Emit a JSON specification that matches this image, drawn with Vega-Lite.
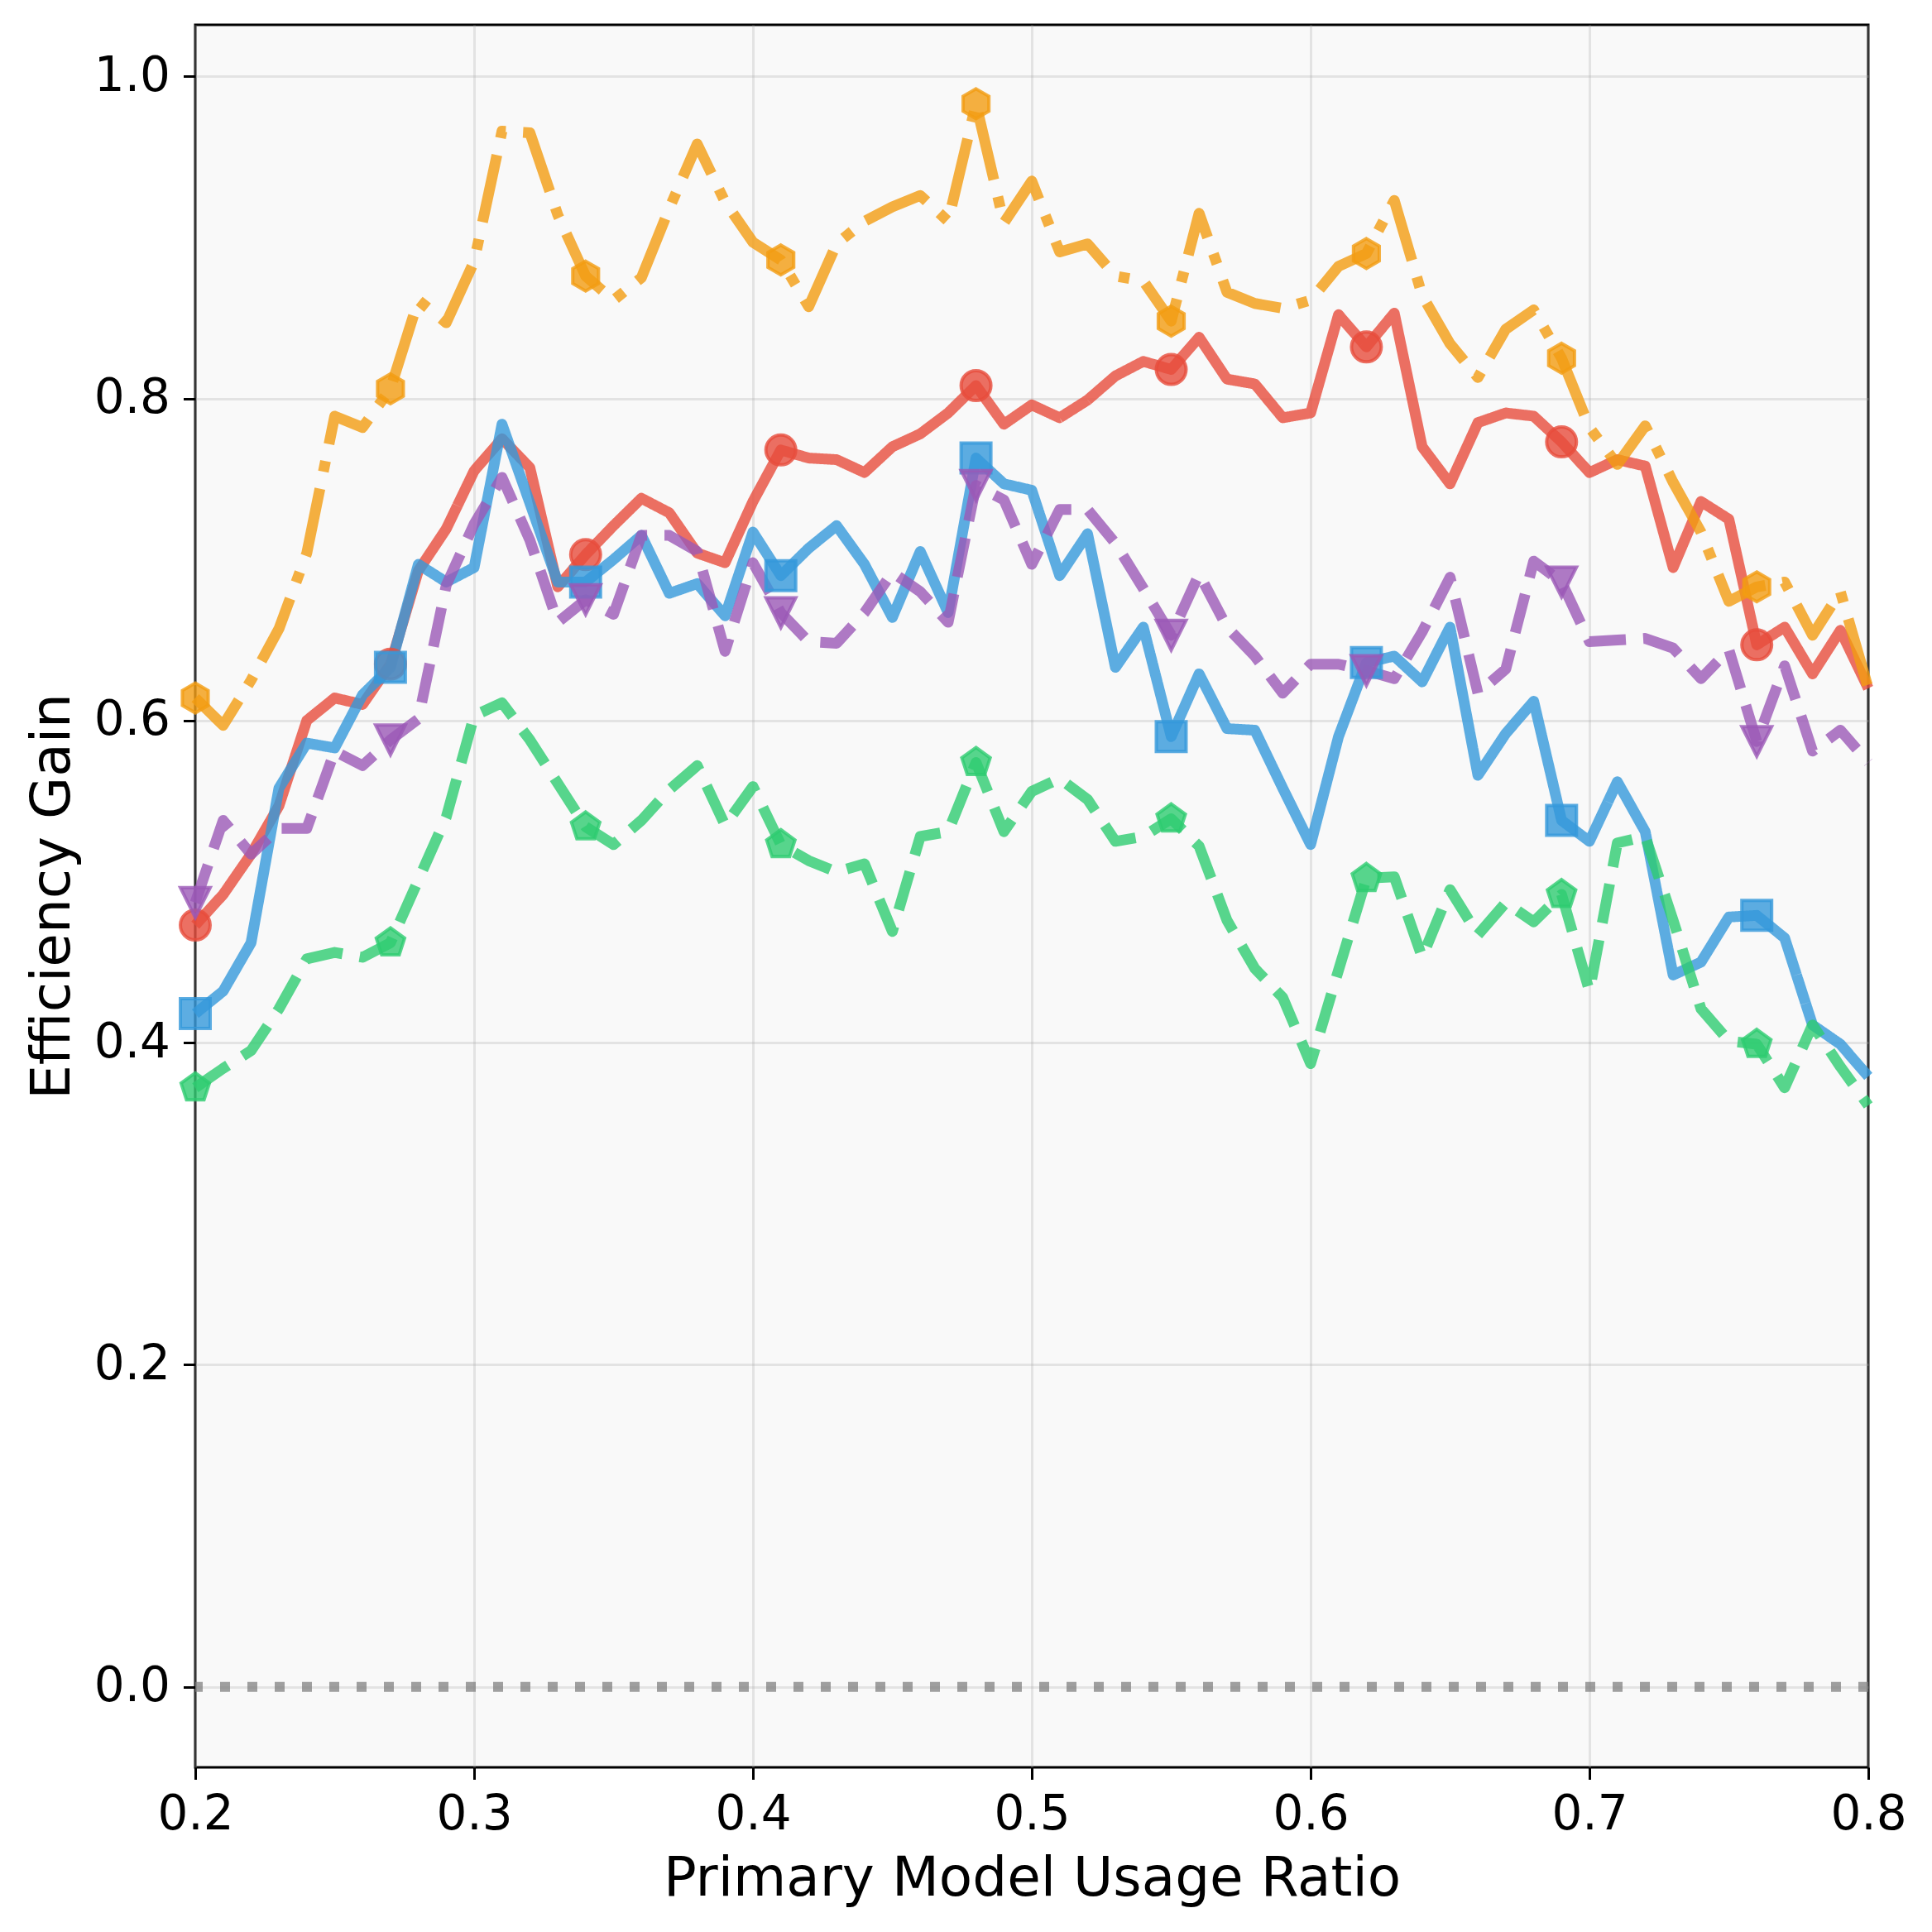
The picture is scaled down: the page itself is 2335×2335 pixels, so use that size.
{
  "$schema": "https://vega.github.io/schema/vega-lite/v6.json",
  "width": 2022,
  "height": 2106,
  "autosize": {"type": "none"},
  "padding": {"left": 236, "top": 30, "right": 77, "bottom": 199},
  "background": "white",
  "config": {
    "view": {"stroke": "black", "strokeWidth": 3, "fill": "#f9f9f9"},
    "axis": {
      "labelFont": "DejaVu Sans", "labelFontSize": 58, "labelColor": "black",
      "titleFont": "DejaVu Sans", "titleFontSize": 66, "titleFontWeight": "normal", "titleColor": "black",
      "tickColor": "black", "tickWidth": 3, "tickSize": 14.5, "domain": false,
      "gridColor": "#b0b0b0", "gridOpacity": 0.3, "gridWidth": 3,
      "labelPadding": 14, "titlePadding": 16, "labelFlush": false, "labelOverlap": false
    },
    "axisY": {"labelPadding": 16}
  },
  "datasets": {
    "series": [
      {"x":0.2,"y":0.473,"s":"A"},{"x":0.21,"y":0.492,"s":"A"},{"x":0.22,"y":0.517,"s":"A"},{"x":0.23,"y":0.547,"s":"A"},{"x":0.24,"y":0.6,"s":"A"},{"x":0.25,"y":0.614,"s":"A"},{"x":0.26,"y":0.61,"s":"A"},{"x":0.27,"y":0.635,"s":"A"},{"x":0.28,"y":0.693,"s":"A"},{"x":0.29,"y":0.719,"s":"A"},
      {"x":0.3,"y":0.755,"s":"A"},{"x":0.31,"y":0.775,"s":"A"},{"x":0.32,"y":0.757,"s":"A"},{"x":0.33,"y":0.683,"s":"A"},{"x":0.34,"y":0.703,"s":"A"},{"x":0.35,"y":0.721,"s":"A"},{"x":0.36,"y":0.738,"s":"A"},{"x":0.37,"y":0.729,"s":"A"},{"x":0.38,"y":0.704,"s":"A"},{"x":0.39,"y":0.698,"s":"A"},
      {"x":0.4,"y":0.736,"s":"A"},{"x":0.41,"y":0.768,"s":"A"},{"x":0.42,"y":0.763,"s":"A"},{"x":0.43,"y":0.762,"s":"A"},{"x":0.44,"y":0.754,"s":"A"},{"x":0.45,"y":0.77,"s":"A"},{"x":0.46,"y":0.778,"s":"A"},{"x":0.47,"y":0.791,"s":"A"},{"x":0.48,"y":0.808,"s":"A"},{"x":0.49,"y":0.784,"s":"A"},
      {"x":0.5,"y":0.796,"s":"A"},{"x":0.51,"y":0.788,"s":"A"},{"x":0.52,"y":0.799,"s":"A"},{"x":0.53,"y":0.814,"s":"A"},{"x":0.54,"y":0.823,"s":"A"},{"x":0.55,"y":0.818,"s":"A"},{"x":0.56,"y":0.838,"s":"A"},{"x":0.57,"y":0.812,"s":"A"},{"x":0.58,"y":0.809,"s":"A"},{"x":0.59,"y":0.788,"s":"A"},
      {"x":0.6,"y":0.791,"s":"A"},{"x":0.61,"y":0.852,"s":"A"},{"x":0.62,"y":0.832,"s":"A"},{"x":0.63,"y":0.853,"s":"A"},{"x":0.64,"y":0.77,"s":"A"},{"x":0.65,"y":0.747,"s":"A"},{"x":0.66,"y":0.785,"s":"A"},{"x":0.67,"y":0.791,"s":"A"},{"x":0.68,"y":0.789,"s":"A"},{"x":0.69,"y":0.773,"s":"A"},
      {"x":0.7,"y":0.754,"s":"A"},{"x":0.71,"y":0.762,"s":"A"},{"x":0.72,"y":0.758,"s":"A"},{"x":0.73,"y":0.695,"s":"A"},{"x":0.74,"y":0.736,"s":"A"},{"x":0.75,"y":0.725,"s":"A"},{"x":0.76,"y":0.647,"s":"A"},{"x":0.77,"y":0.658,"s":"A"},{"x":0.78,"y":0.629,"s":"A"},{"x":0.79,"y":0.656,"s":"A"},{"x":0.8,"y":0.62,"s":"A"},

      {"x":0.2,"y":0.418,"s":"B"},{"x":0.21,"y":0.432,"s":"B"},{"x":0.22,"y":0.462,"s":"B"},{"x":0.23,"y":0.558,"s":"B"},{"x":0.24,"y":0.586,"s":"B"},{"x":0.25,"y":0.583,"s":"B"},{"x":0.26,"y":0.616,"s":"B"},{"x":0.27,"y":0.633,"s":"B"},{"x":0.28,"y":0.697,"s":"B"},{"x":0.29,"y":0.686,"s":"B"},
      {"x":0.3,"y":0.695,"s":"B"},{"x":0.31,"y":0.784,"s":"B"},{"x":0.32,"y":0.735,"s":"B"},{"x":0.33,"y":0.686,"s":"B"},{"x":0.34,"y":0.686,"s":"B"},{"x":0.35,"y":0.7,"s":"B"},{"x":0.36,"y":0.715,"s":"B"},{"x":0.37,"y":0.679,"s":"B"},{"x":0.38,"y":0.685,"s":"B"},{"x":0.39,"y":0.665,"s":"B"},
      {"x":0.4,"y":0.717,"s":"B"},{"x":0.41,"y":0.69,"s":"B"},{"x":0.42,"y":0.707,"s":"B"},{"x":0.43,"y":0.721,"s":"B"},{"x":0.44,"y":0.697,"s":"B"},{"x":0.45,"y":0.664,"s":"B"},{"x":0.46,"y":0.705,"s":"B"},{"x":0.47,"y":0.667,"s":"B"},{"x":0.48,"y":0.763,"s":"B"},{"x":0.49,"y":0.747,"s":"B"},
      {"x":0.5,"y":0.743,"s":"B"},{"x":0.51,"y":0.69,"s":"B"},{"x":0.52,"y":0.716,"s":"B"},{"x":0.53,"y":0.633,"s":"B"},{"x":0.54,"y":0.658,"s":"B"},{"x":0.55,"y":0.59,"s":"B"},{"x":0.56,"y":0.629,"s":"B"},{"x":0.57,"y":0.595,"s":"B"},{"x":0.58,"y":0.594,"s":"B"},{"x":0.59,"y":0.558,"s":"B"},
      {"x":0.6,"y":0.523,"s":"B"},{"x":0.61,"y":0.59,"s":"B"},{"x":0.62,"y":0.636,"s":"B"},{"x":0.63,"y":0.64,"s":"B"},{"x":0.64,"y":0.624,"s":"B"},{"x":0.65,"y":0.658,"s":"B"},{"x":0.66,"y":0.566,"s":"B"},{"x":0.67,"y":0.592,"s":"B"},{"x":0.68,"y":0.612,"s":"B"},{"x":0.69,"y":0.538,"s":"B"},
      {"x":0.7,"y":0.525,"s":"B"},{"x":0.71,"y":0.562,"s":"B"},{"x":0.72,"y":0.531,"s":"B"},{"x":0.73,"y":0.442,"s":"B"},{"x":0.74,"y":0.45,"s":"B"},{"x":0.75,"y":0.478,"s":"B"},{"x":0.76,"y":0.479,"s":"B"},{"x":0.77,"y":0.465,"s":"B"},{"x":0.78,"y":0.411,"s":"B"},{"x":0.79,"y":0.399,"s":"B"},{"x":0.8,"y":0.379,"s":"B"},

      {"x":0.2,"y":0.487,"s":"C"},{"x":0.21,"y":0.538,"s":"C"},{"x":0.22,"y":0.517,"s":"C"},{"x":0.23,"y":0.533,"s":"C"},{"x":0.24,"y":0.533,"s":"C"},{"x":0.25,"y":0.581,"s":"C"},{"x":0.26,"y":0.572,"s":"C"},{"x":0.27,"y":0.588,"s":"C"},{"x":0.28,"y":0.601,"s":"C"},{"x":0.29,"y":0.684,"s":"C"},
      {"x":0.3,"y":0.722,"s":"C"},{"x":0.31,"y":0.751,"s":"C"},{"x":0.32,"y":0.712,"s":"C"},{"x":0.33,"y":0.661,"s":"C"},{"x":0.34,"y":0.675,"s":"C"},{"x":0.35,"y":0.666,"s":"C"},{"x":0.36,"y":0.715,"s":"C"},{"x":0.37,"y":0.715,"s":"C"},{"x":0.38,"y":0.705,"s":"C"},{"x":0.39,"y":0.643,"s":"C"},
      {"x":0.4,"y":0.698,"s":"C"},{"x":0.41,"y":0.667,"s":"C"},{"x":0.42,"y":0.649,"s":"C"},{"x":0.43,"y":0.648,"s":"C"},{"x":0.44,"y":0.667,"s":"C"},{"x":0.45,"y":0.692,"s":"C"},{"x":0.46,"y":0.68,"s":"C"},{"x":0.47,"y":0.661,"s":"C"},{"x":0.48,"y":0.746,"s":"C"},{"x":0.49,"y":0.737,"s":"C"},
      {"x":0.5,"y":0.697,"s":"C"},{"x":0.51,"y":0.731,"s":"C"},{"x":0.52,"y":0.731,"s":"C"},{"x":0.53,"y":0.71,"s":"C"},{"x":0.54,"y":0.682,"s":"C"},{"x":0.55,"y":0.653,"s":"C"},{"x":0.56,"y":0.691,"s":"C"},{"x":0.57,"y":0.658,"s":"C"},{"x":0.58,"y":0.64,"s":"C"},{"x":0.59,"y":0.617,"s":"C"},
      {"x":0.6,"y":0.635,"s":"C"},{"x":0.61,"y":0.635,"s":"C"},{"x":0.62,"y":0.631,"s":"C"},{"x":0.63,"y":0.626,"s":"C"},{"x":0.64,"y":0.655,"s":"C"},{"x":0.65,"y":0.689,"s":"C"},{"x":0.66,"y":0.617,"s":"C"},{"x":0.67,"y":0.632,"s":"C"},{"x":0.68,"y":0.699,"s":"C"},{"x":0.69,"y":0.686,"s":"C"},
      {"x":0.7,"y":0.649,"s":"C"},{"x":0.71,"y":0.65,"s":"C"},{"x":0.72,"y":0.651,"s":"C"},{"x":0.73,"y":0.645,"s":"C"},{"x":0.74,"y":0.626,"s":"C"},{"x":0.75,"y":0.644,"s":"C"},{"x":0.76,"y":0.587,"s":"C"},{"x":0.77,"y":0.634,"s":"C"},{"x":0.78,"y":0.581,"s":"C"},{"x":0.79,"y":0.594,"s":"C"},{"x":0.8,"y":0.574,"s":"C"},

      {"x":0.2,"y":0.372,"s":"D"},{"x":0.21,"y":0.384,"s":"D"},{"x":0.22,"y":0.395,"s":"D"},{"x":0.23,"y":0.421,"s":"D"},{"x":0.24,"y":0.452,"s":"D"},{"x":0.25,"y":0.456,"s":"D"},{"x":0.26,"y":0.453,"s":"D"},{"x":0.27,"y":0.462,"s":"D"},{"x":0.28,"y":0.501,"s":"D"},{"x":0.29,"y":0.54,"s":"D"},
      {"x":0.3,"y":0.603,"s":"D"},{"x":0.31,"y":0.611,"s":"D"},{"x":0.32,"y":0.588,"s":"D"},{"x":0.33,"y":0.561,"s":"D"},{"x":0.34,"y":0.534,"s":"D"},{"x":0.35,"y":0.523,"s":"D"},{"x":0.36,"y":0.538,"s":"D"},{"x":0.37,"y":0.557,"s":"D"},{"x":0.38,"y":0.572,"s":"D"},{"x":0.39,"y":0.535,"s":"D"},
      {"x":0.4,"y":0.559,"s":"D"},{"x":0.41,"y":0.523,"s":"D"},{"x":0.42,"y":0.513,"s":"D"},{"x":0.43,"y":0.506,"s":"D"},{"x":0.44,"y":0.511,"s":"D"},{"x":0.45,"y":0.469,"s":"D"},{"x":0.46,"y":0.528,"s":"D"},{"x":0.47,"y":0.531,"s":"D"},{"x":0.48,"y":0.574,"s":"D"},{"x":0.49,"y":0.531,"s":"D"},
      {"x":0.5,"y":0.556,"s":"D"},{"x":0.51,"y":0.564,"s":"D"},{"x":0.52,"y":0.551,"s":"D"},{"x":0.53,"y":0.525,"s":"D"},{"x":0.54,"y":0.528,"s":"D"},{"x":0.55,"y":0.539,"s":"D"},{"x":0.56,"y":0.522,"s":"D"},{"x":0.57,"y":0.476,"s":"D"},{"x":0.58,"y":0.446,"s":"D"},{"x":0.59,"y":0.428,"s":"D"},
      {"x":0.6,"y":0.387,"s":"D"},{"x":0.61,"y":0.445,"s":"D"},{"x":0.62,"y":0.502,"s":"D"},{"x":0.63,"y":0.503,"s":"D"},{"x":0.64,"y":0.453,"s":"D"},{"x":0.65,"y":0.495,"s":"D"},{"x":0.66,"y":0.467,"s":"D"},{"x":0.67,"y":0.487,"s":"D"},{"x":0.68,"y":0.475,"s":"D"},{"x":0.69,"y":0.492,"s":"D"},
      {"x":0.7,"y":0.432,"s":"D"},{"x":0.71,"y":0.524,"s":"D"},{"x":0.72,"y":0.528,"s":"D"},{"x":0.73,"y":0.476,"s":"D"},{"x":0.74,"y":0.421,"s":"D"},{"x":0.75,"y":0.401,"s":"D"},{"x":0.76,"y":0.399,"s":"D"},{"x":0.77,"y":0.372,"s":"D"},{"x":0.78,"y":0.411,"s":"D"},{"x":0.79,"y":0.385,"s":"D"},{"x":0.8,"y":0.361,"s":"D"},

      {"x":0.2,"y":0.614,"s":"E"},{"x":0.21,"y":0.597,"s":"E"},{"x":0.22,"y":0.625,"s":"E"},{"x":0.23,"y":0.657,"s":"E"},{"x":0.24,"y":0.704,"s":"E"},{"x":0.25,"y":0.789,"s":"E"},{"x":0.26,"y":0.782,"s":"E"},{"x":0.27,"y":0.806,"s":"E"},{"x":0.28,"y":0.861,"s":"E"},{"x":0.29,"y":0.847,"s":"E"},
      {"x":0.3,"y":0.885,"s":"E"},{"x":0.31,"y":0.966,"s":"E"},{"x":0.32,"y":0.965,"s":"E"},{"x":0.33,"y":0.914,"s":"E"},{"x":0.34,"y":0.876,"s":"E"},{"x":0.35,"y":0.861,"s":"E"},{"x":0.36,"y":0.875,"s":"E"},{"x":0.37,"y":0.918,"s":"E"},{"x":0.38,"y":0.958,"s":"E"},{"x":0.39,"y":0.922,"s":"E"},
      {"x":0.4,"y":0.897,"s":"E"},{"x":0.41,"y":0.886,"s":"E"},{"x":0.42,"y":0.857,"s":"E"},{"x":0.43,"y":0.896,"s":"E"},{"x":0.44,"y":0.91,"s":"E"},{"x":0.45,"y":0.919,"s":"E"},{"x":0.46,"y":0.926,"s":"E"},{"x":0.47,"y":0.91,"s":"E"},{"x":0.48,"y":0.983,"s":"E"},{"x":0.49,"y":0.909,"s":"E"},
      {"x":0.5,"y":0.935,"s":"E"},{"x":0.51,"y":0.891,"s":"E"},{"x":0.52,"y":0.896,"s":"E"},{"x":0.53,"y":0.876,"s":"E"},{"x":0.54,"y":0.873,"s":"E"},{"x":0.55,"y":0.848,"s":"E"},{"x":0.56,"y":0.915,"s":"E"},{"x":0.57,"y":0.866,"s":"E"},{"x":0.58,"y":0.859,"s":"E"},{"x":0.59,"y":0.856,"s":"E"},
      {"x":0.6,"y":0.861,"s":"E"},{"x":0.61,"y":0.882,"s":"E"},{"x":0.62,"y":0.89,"s":"E"},{"x":0.63,"y":0.923,"s":"E"},{"x":0.64,"y":0.864,"s":"E"},{"x":0.65,"y":0.834,"s":"E"},{"x":0.66,"y":0.813,"s":"E"},{"x":0.67,"y":0.843,"s":"E"},{"x":0.68,"y":0.855,"s":"E"},{"x":0.69,"y":0.825,"s":"E"},
      {"x":0.7,"y":0.782,"s":"E"},{"x":0.71,"y":0.759,"s":"E"},{"x":0.72,"y":0.783,"s":"E"},{"x":0.73,"y":0.748,"s":"E"},{"x":0.74,"y":0.717,"s":"E"},{"x":0.75,"y":0.674,"s":"E"},{"x":0.76,"y":0.683,"s":"E"},{"x":0.77,"y":0.686,"s":"E"},{"x":0.78,"y":0.653,"s":"E"},{"x":0.79,"y":0.68,"s":"E"},{"x":0.8,"y":0.62,"s":"E"}
    ],
    "zero": [{"y": 0}]
  },
  "layer": [
    {
      "data": {"name": "zero"},
      "mark": {"type": "rule", "color": "#808080", "opacity": 0.75, "strokeWidth": 12, "strokeDash": [12, 21], "strokeCap": "butt"},
      "encoding": {
        "y": {"field": "y", "type": "quantitative",
              "scale": {"domain": [-0.05, 1.032], "nice": false, "zero": false},
              "axis": {"values": [0, 0.2, 0.4, 0.6, 0.8, 1.0], "format": ".1f", "title": "Efficiency Gain"}}
      }
    },
    {
      "data": {"name": "series"},
      "mark": {"type": "line", "strokeWidth": 13, "strokeCap": "butt", "strokeJoin": "round", "opacity": 0.8},
      "encoding": {
        "x": {"field": "x", "type": "quantitative",
              "scale": {"domain": [0.2, 0.8], "nice": false, "zero": false},
              "axis": {"values": [0.2, 0.3, 0.4, 0.5, 0.6, 0.7, 0.8], "format": ".1f", "title": "Primary Model Usage Ratio"}},
        "y": {"field": "y", "type": "quantitative",
              "scale": {"domain": [-0.05, 1.032], "nice": false, "zero": false},
              "axis": {"values": [0, 0.2, 0.4, 0.6, 0.8, 1.0], "format": ".1f", "title": "Efficiency Gain"}},
        "color": {"field": "s", "type": "nominal",
                  "scale": {"domain": ["A", "B", "C", "D", "E"], "range": ["#E74C3C", "#3498DB", "#9B59B6", "#2ECC71", "#F39C12"]},
                  "legend": null},
        "strokeDash": {"field": "s", "type": "nominal",
                       "scale": {"domain": ["A", "B", "C", "D", "E"], "range": [[1, 0], [1, 0], [48, 21], [48, 21], [83, 21, 13, 21]]},
                       "legend": null}
      }
    },
    {
      "data": {"name": "series"},
      "transform": [{"filter": {"field": "x", "oneOf": [0.2, 0.27, 0.34, 0.41, 0.48, 0.55, 0.62, 0.69, 0.76]}}],
      "mark": {"type": "point", "filled": true, "size": 1296, "opacity": 1, "fillOpacity": 0.8, "strokeOpacity": 0.8, "strokeWidth": 4},
      "encoding": {
        "x": {"field": "x", "type": "quantitative"},
        "y": {"field": "y", "type": "quantitative"},
        "fill": {"field": "s", "type": "nominal",
                 "scale": {"domain": ["A", "B", "C", "D", "E"], "range": ["#E74C3C", "#3498DB", "#9B59B6", "#2ECC71", "#F39C12"]},
                 "legend": null},
        "stroke": {"field": "s", "type": "nominal",
                   "scale": {"domain": ["A", "B", "C", "D", "E"], "range": ["#E74C3C", "#3498DB", "#9B59B6", "#2ECC71", "#F39C12"]},
                   "legend": null},
        "shape": {"field": "s", "type": "nominal",
                  "scale": {"domain": ["A", "B", "C", "D", "E"],
                            "range": ["circle", "square", "M-1,-1L1,-1L0,1Z", "M0,-1L0.951,-0.309L0.588,0.809L-0.588,0.809L-0.951,-0.309Z", "M0,-1L0.866,-0.5L0.866,0.5L0,1L-0.866,0.5L-0.866,-0.5Z"]},
                  "legend": null}
      }
    }
  ]
}
